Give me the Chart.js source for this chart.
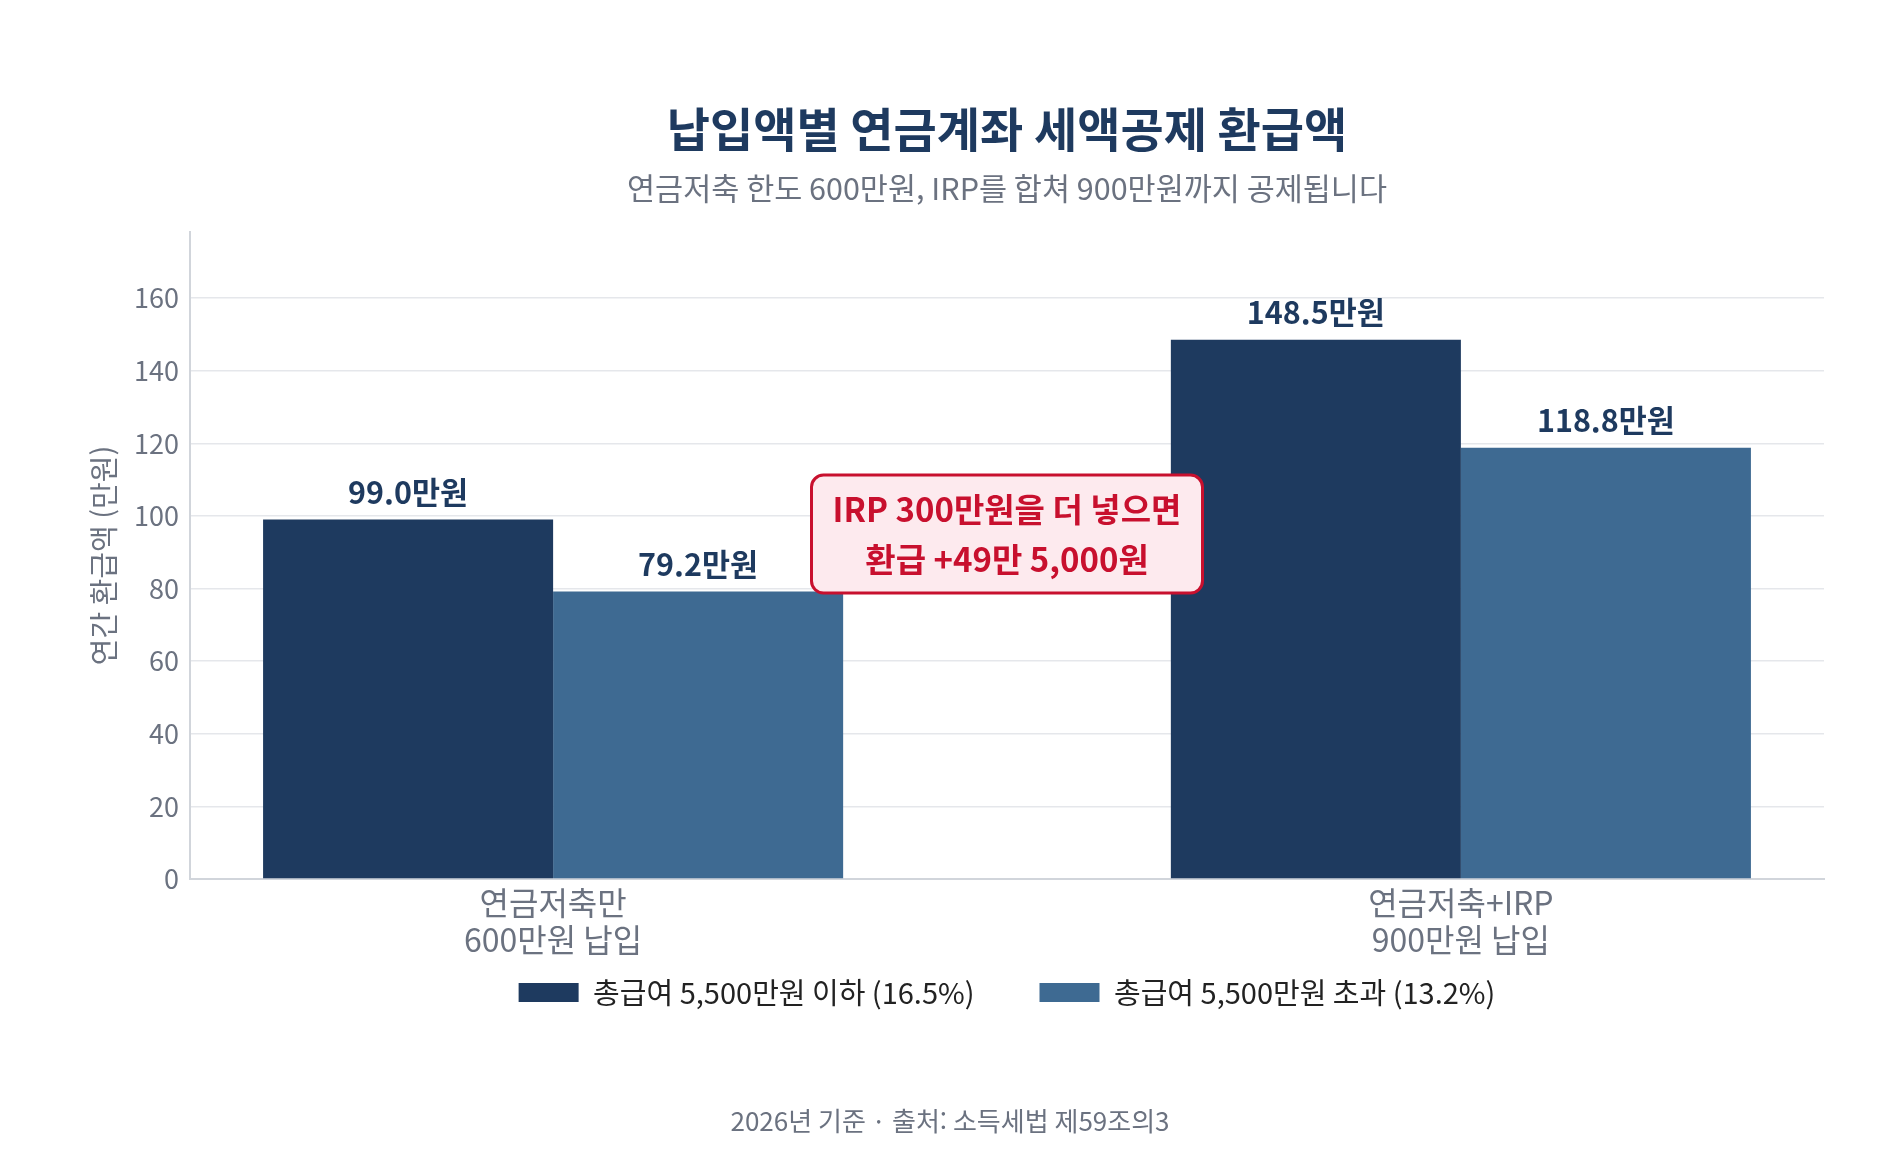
<!DOCTYPE html>
<html lang="ko">
<head>
<meta charset="utf-8">
<title>납입액별 연금계좌 세액공제 환급액</title>
<script src="https://cdn.jsdelivr.net/npm/chart.js@4.4.1/dist/chart.umd.min.js"></script>
<style>
  html, body { margin: 0; padding: 0; background: #fff; }
  #wrap { width: 1900px; height: 1160px; }
</style>
</head>
<body>
<div id="wrap"><canvas id="refund"></canvas></div>
<script>
var categories = [['연금저축만', '600만원 납입'], ['연금저축+IRP', '900만원 납입']];
var seriesNames = ['총급여 5,500만원 이하 (16.5%)', '총급여 5,500만원 초과 (13.2%)'];
var lowIncome = [99.0, 148.5];
var highIncome = [79.2, 118.8];
var yTicks = [0, 20, 40, 60, 80, 100, 120, 140, 160];
var noteLines = ['IRP 300만원을 더 넣으면', '환급 +49만 5,000원'];

var FONT = "'Noto Sans CJK KR', 'Noto Sans', sans-serif";
Chart.defaults.font.family = FONT;

function toPoints(values) {
    return values.map(function (v, i) { return { x: i, y: v }; });
}

// value text above every bar
var valueLabels = {
    id: 'valueLabels',
    afterDatasetsDraw: function (chart) {
        var ctx = chart.ctx;
        ctx.save();
        ctx.font = 'bold 30.5px ' + FONT;
        ctx.fillStyle = '#1e3a5f';
        ctx.textAlign = 'center';
        ctx.textBaseline = 'middle';
        chart.data.datasets.forEach(function (ds, di) {
            chart.getDatasetMeta(di).data.forEach(function (bar, i) {
                ctx.fillText(ds.data[i].y.toFixed(1) + '만원', bar.x, bar.y - 27);
            });
        });
        ctx.restore();
    }
};

// red call-out between the two groups
var noteBox = {
    id: 'noteBox',
    afterDatasetsDraw: function (chart) {
        var ctx = chart.ctx;
        var cx = chart.scales.x.getPixelForValue(0.5);
        var cy = chart.scales.y.getPixelForValue(95);
        var w = 391, h = 118;
        ctx.save();
        ctx.beginPath();
        ctx.roundRect(cx - w / 2, cy - h / 2, w, h, 12);
        ctx.fillStyle = '#fdeaee';
        ctx.fill();
        ctx.lineWidth = 3;
        ctx.strokeStyle = '#c8102e';
        ctx.stroke();
        ctx.font = 'bold 33px ' + FONT;
        ctx.fillStyle = '#c8102e';
        ctx.textAlign = 'center';
        ctx.textBaseline = 'middle';
        noteLines.forEach(function (line, i) {
            ctx.fillText(line, cx, cy + (i - (noteLines.length - 1) / 2) * 50);
        });
        ctx.restore();
    }
};

// pull the legend up under the two-line axis labels
var legendLift = {
    id: 'legendLift',
    afterLayout: function (chart) {
        chart.legend.top -= 45;
        chart.legend.bottom -= 45;
    }
};

var footNote = {
    id: 'footNote',
    afterDraw: function (chart) {
        var ctx = chart.ctx;
        ctx.save();
        ctx.font = '26px ' + FONT;
        ctx.fillStyle = '#6b7280';
        ctx.textAlign = 'center';
        ctx.textBaseline = 'middle';
        ctx.fillText('2026년 기준 · 출처: 소득세법 제59조의3', chart.width / 2, chart.height - 39);
        ctx.restore();
    }
};

new Chart(document.getElementById('refund'), {
    type: 'bar',
    data: {
        datasets: [
            { label: seriesNames[0], data: toPoints(lowIncome), backgroundColor: '#1e3a5f' },
            { label: seriesNames[1], data: toPoints(highIncome), backgroundColor: '#3e6a92' }
        ]
    },
    options: {
        responsive: true,
        maintainAspectRatio: false,
        animation: false,
        datasets: { bar: { categoryPercentage: 0.639, barPercentage: 1.0 } },
        layout: { padding: { left: 85, right: 76, top: 0, bottom: 98 } },
        scales: {
            x: {
                type: 'linear',
                min: -0.4,
                max: 1.4,
                offset: false,
                afterBuildTicks: function (s) {
                    s.ticks = categories.map(function (c, i) { return { value: i }; });
                },
                afterFit: function (s) { s.height = 79; },
                grid: { display: false, drawTicks: false },
                border: { display: true, color: '#d1d5db', width: 2 },
                ticks: {
                    autoSkip: false,
                    maxRotation: 0,
                    padding: 6,
                    color: '#6b7280',
                    font: { size: 32, lineHeight: 1.14 },
                    callback: function (v) { return categories[v]; }
                }
            },
            y: {
                min: 0,
                max: 178.2,
                afterBuildTicks: function (s) {
                    s.ticks = yTicks.map(function (t) { return { value: t }; });
                },
                afterFit: function (s) { s.width = 105; },
                grid: { color: '#e5e7eb', lineWidth: 1.5, drawTicks: false },
                border: { color: '#d1d5db', width: 2 },
                ticks: { padding: 11, color: '#6b7280', font: { size: 27 } },
                title: {
                    display: true,
                    text: '연간 환급액 (만원)',
                    color: '#6b7280',
                    font: { size: 29 },
                    padding: 2
                }
            }
        },
        plugins: {
            title: {
                display: true,
                fullSize: false,
                text: '납입액별 연금계좌 세액공제 환급액',
                color: '#1e3a5f',
                font: { size: 47, weight: 'bold' },
                padding: { top: 101, bottom: 6 }
            },
            subtitle: {
                display: true,
                fullSize: false,
                text: '연금저축 한도 600만원, IRP를 합쳐 900만원까지 공제됩니다',
                color: '#6b7280',
                font: { size: 30.5, weight: 'normal' },
                padding: { top: 7, bottom: 25 }
            },
            legend: {
                position: 'bottom',
                fullSize: false,
                labels: {
                    boxWidth: 60,
                    boxHeight: 19,
                    padding: 65,
                    color: '#222222',
                    font: { size: 29 }
                }
            },
            tooltip: { enabled: false }
        }
    },
    plugins: [valueLabels, noteBox, legendLift, footNote]
});
</script>
</body>
</html>
